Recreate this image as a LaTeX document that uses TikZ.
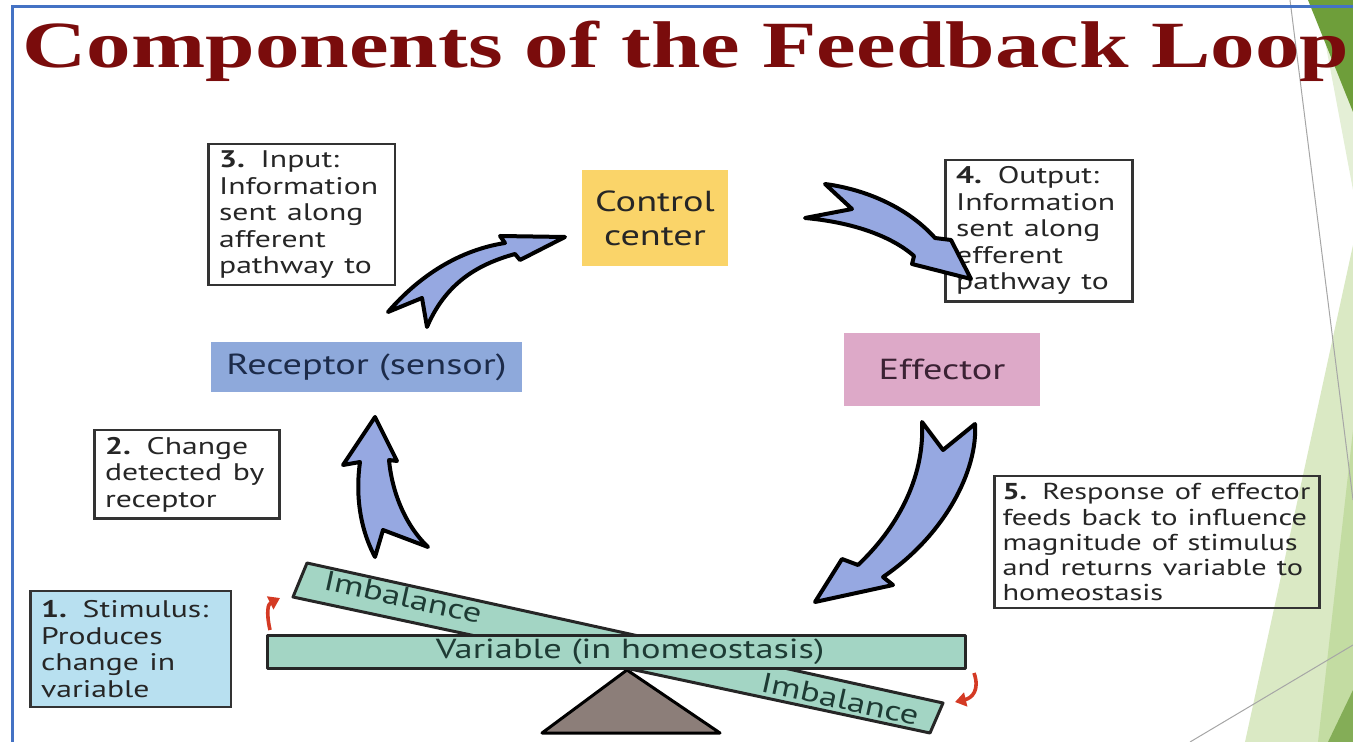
\documentclass[tikz,border=0pt]{standalone}
\usepackage{fontspec}
\setmainfont{PT Sans}
\newfontfamily\titlefont{Liberation Serif}
\usetikzlibrary{
    arrows.meta,
    calc
}
\definecolor{titlered}{HTML}{7A0C0C}
\definecolor{frameblue}{HTML}{4472C4}
\definecolor{arrowfill}{HTML}{96A8E1}
\definecolor{receptorfill}{HTML}{8EA9DB}
\definecolor{receptorink}{HTML}{1C2B4A}
\definecolor{controlfill}{HTML}{FAD469}
\definecolor{effectorfill}{HTML}{DDA9C8}
\definecolor{effectorink}{HTML}{3B2234}
\definecolor{stimulusfill}{HTML}{B8E0F0}
\definecolor{barfill}{HTML}{A3D5C4}
\definecolor{plankink}{HTML}{1E3B34}
\definecolor{fulcrum}{HTML}{8C7E79}
\definecolor{leafdark}{HTML}{6E9E3A}
\definecolor{leaflight}{HTML}{DAE9C4}
\definecolor{leafmid}{HTML}{C3DCA2}
\definecolor{leafpale}{HTML}{E4EFD6}
\definecolor{turnred}{HTML}{D43A24}
\tikzset {
    wide/.style = {xscale = 1.32},
    infobox/.style = {
        wide,
        draw = black!80,
        line width = 1.2pt,
        align = left,
        anchor = north west,
        inner xsep = 4pt,
        text = black!85,
        font = \fontsize{12}{13.25}\selectfont
    },
    stagebox/.style = {
        wide,
        inner sep = 0pt,
        align = center,
        font = \fontsize{14.5}{17}\selectfont
    },
    blockarrow/.style = {fill = arrowfill, draw = black, line width = 2pt, line join = round},
    plank/.style = {fill = barfill, draw = black!85, line width = 1.5pt, line join = round},
    imbalance/.style = {rotate = -12.4, xscale = 1.3, inner sep = 0pt, text = plankink, font = \fontsize{14}{16}\selectfont},
    tilt arrow/.style = {draw = turnred, line width = 1.8pt, -{Triangle[length = 5.5pt, width = 7pt]}}
}
\begin{document}
\begin{tikzpicture}[x = 0.5pt, y = -0.5pt]
    \useasboundingbox (0, 0) rectangle (1353, 742);
    % slide decoration
    \fill [leaflight] (1353, 245) -- (1245, 742) -- (1353, 742) -- cycle;
    \fill [leafmid] (1353, 430) -- (1318, 742) -- (1353, 742) -- cycle;
    \fill [leafdark!85] (1328, 742) -- (1353, 690) -- (1353, 742) -- cycle;
    \fill [leafpale] (1322, 25) -- (1353, 25) -- (1353, 190) -- cycle;
    \fill [leafdark] (1308, 0) -- (1353, 0) -- (1353, 112) -- cycle;
    \draw [gray!70, line width = 0.5pt] (1290, 0) -- (1353, 500);
    \draw [gray!70, line width = 0.5pt] (1190, 742) -- (1353, 645);
    \draw [frameblue, line width = 1.5pt] (12, 742) -- (12, 7) -- (1353, 7);

    \node [xscale = 1.35, anchor = base west, inner sep = 0pt, text = titlered,
        font = \titlefont\bfseries\fontsize{33}{36}\selectfont] (title) at (22, 68)
        {Components of the Feedback Loop};

    \node [infobox, text width = 62.5pt, minimum height = 69pt] (input) at (207, 143)
        {\textbf{3.} Input:\\Information\\sent along\\afferent\\pathway to};
    \node [infobox, text width = 62.8pt, minimum height = 69pt] (output) at (944, 159)
        {\textbf{4.} Output:\\Information\\sent along\\efferent\\pathway to};
    \node [infobox, text width = 62.1pt, minimum height = 41pt] (detect) at (93, 429)
        {\textbf{2.} Change\\detected by\\receptor};
    \node [infobox, fill = stimulusfill, text width = 67.8pt, minimum height = 58pt] (stimulus) at (29, 590)
        {\textbf{1.} Stimulus:\\Produces\\change in\\variable};
    \node [infobox, inner xsep = 3pt, text width = 117.1pt, minimum height = 66pt,
        font = \fontsize{11.5}{12.6}\selectfont] (response) at (993, 475)
        {\textbf{5.} Response of effector\\feeds back to influence\\magnitude of stimulus\\and returns variable to\\homeostasis};

    \node [stagebox, fill = receptorfill, text = receptorink, minimum width = 117.8pt, minimum height = 25pt]
        (receptor) at (366.5, 367) {Receptor (sensor)};
    \node [stagebox, fill = controlfill, text = black!85, minimum width = 55.3pt, minimum height = 48pt]
        (control) at (655, 218) {Control\\center};
    \node [stagebox, fill = effectorfill, text = effectorink, minimum width = 74.2pt, minimum height = 36.5pt]
        (effector) at (942, 369.5) {Effector};

    % seesaw
    \draw [fill = fulcrum, draw = black, line width = 1.5pt, line join = round]
        (627, 670) -- (720, 733) -- (542, 733) -- cycle;
    \draw [plank] (307, 563) -- (943, 703) -- (930, 733) -- (293, 597) -- cycle;
    \draw [plank] (267, 635) rectangle (965, 668);
    \node [wide, inner sep = 0pt, text = plankink, font = \fontsize{13.8}{16}\selectfont] (variable) at (630, 652)
        {Variable (in homeostasis)};
    \node [imbalance] (upper) at (403, 597) {Imbalance};
    \node [imbalance] (lower) at (840, 699) {Imbalance};
    \draw [tilt arrow] (270, 630) .. controls (266, 612) and (268, 604) .. (280, 598);
    \draw [tilt arrow] (974, 673) .. controls (980, 690) and (972, 698) .. (955, 702);

    % loop arrows
    \draw [blockarrow] (375, 417) -- (397, 461) -- (389, 460)
        .. controls (392, 492) and (405, 525) .. (428, 547)
        -- (383, 530) -- (375, 557)
        .. controls (358, 525) and (356, 490) .. (360, 462)
        -- (343, 465) -- cycle;
    \draw [blockarrow] (388, 312)
        .. controls (420, 275) and (460, 250) .. (505, 243)
        -- (500, 236) -- (565, 237) -- (520, 260) -- (515, 254)
        .. controls (475, 265) and (445, 285) .. (427, 327)
        -- (422, 298) -- cycle;
    \draw [blockarrow] (825, 184)
        .. controls (870, 190) and (910, 210) .. (935, 238)
        -- (951, 240) -- (971, 279) -- (912, 264) -- (914, 256)
        .. controls (890, 235) and (850, 222) .. (805, 218)
        -- (852, 209) -- cycle;
    \draw [blockarrow] (922, 422) -- (943, 450) -- (975, 424)
        .. controls (978, 470) and (945, 535) .. (883, 577)
        -- (893, 585) -- (815, 602) -- (842, 559) -- (858, 565)
        .. controls (895, 530) and (925, 480) .. cycle;
\end{tikzpicture}
\end{document}
